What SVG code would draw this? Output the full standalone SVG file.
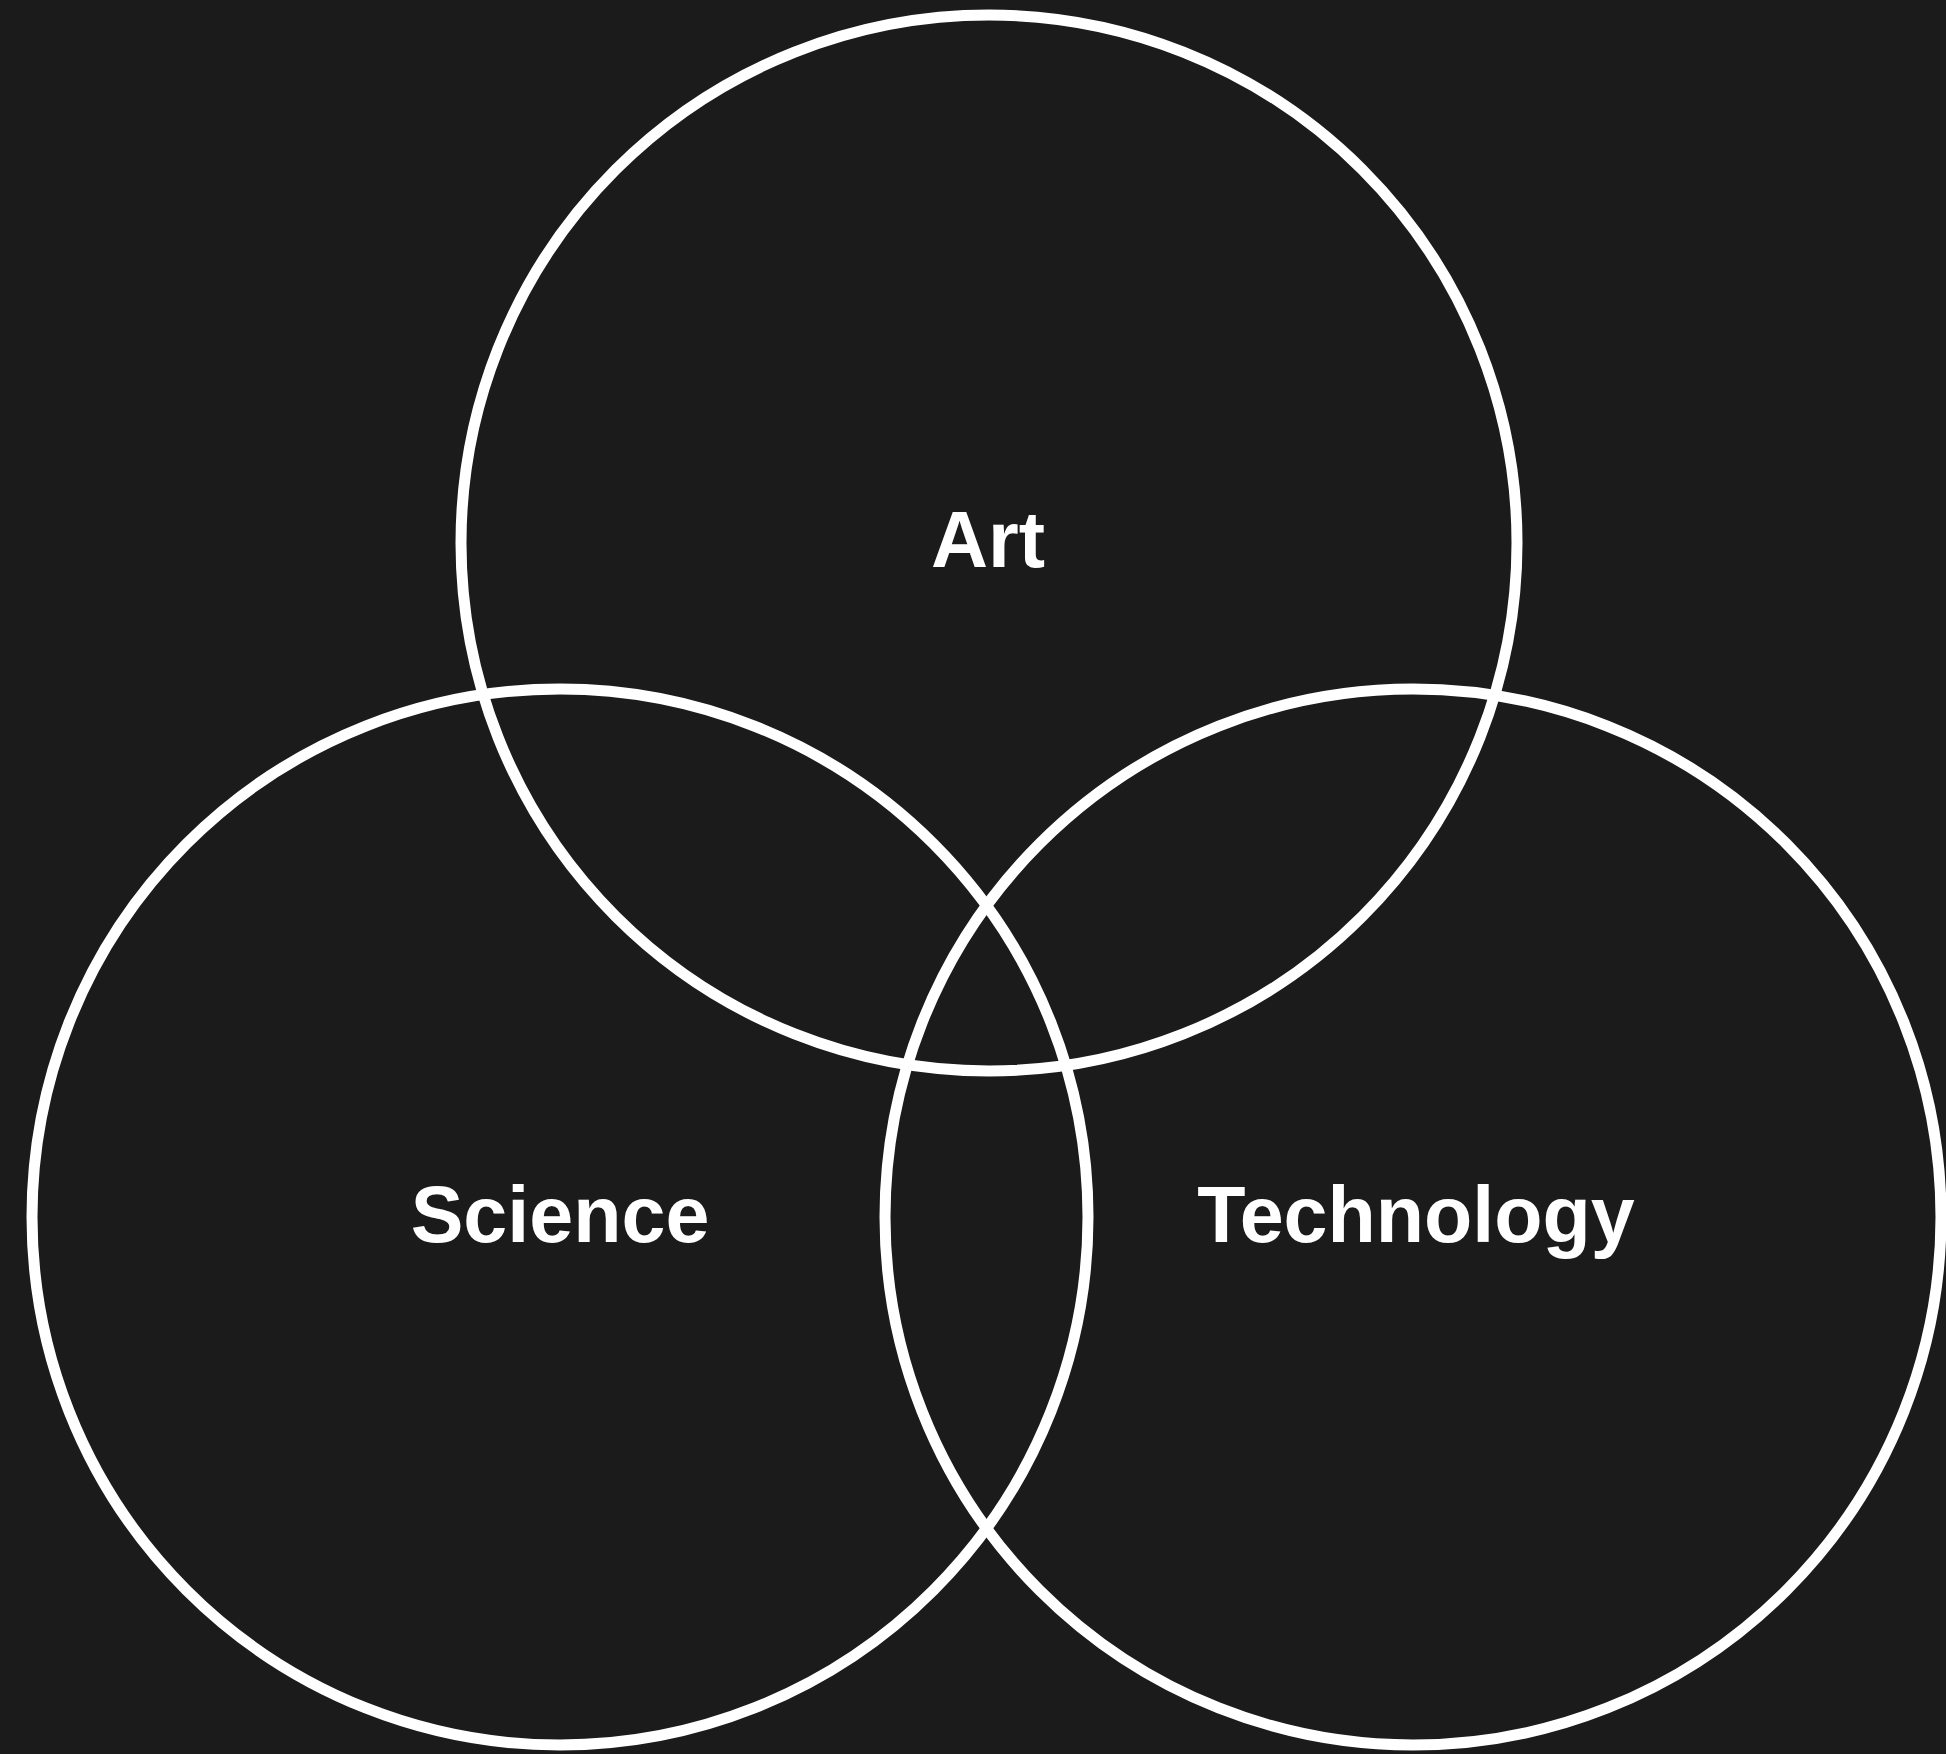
<svg xmlns="http://www.w3.org/2000/svg" width="1946" height="1754" viewBox="0 0 1946 1754">
<style>
.c{fill:none;stroke:#ffffff;stroke-width:11}
.t{fill:#ffffff;font-family:"Liberation Sans",Arial,sans-serif;font-weight:bold;font-size:79px;text-anchor:middle}
</style>
<rect width="1946" height="1754" fill="#1b1b1b"/>
<g id="art"><circle class="c" cx="989" cy="543" r="528"/><text class="t" x="988" y="567">Art</text></g>
<g id="science"><circle class="c" cx="560" cy="1217" r="528"/><text class="t" x="560" y="1242">Science</text></g>
<g id="technology"><circle class="c" cx="1413" cy="1217" r="528"/><text class="t" x="1416" y="1242">Technology</text></g>
<g id="connectors"></g>
</svg>
